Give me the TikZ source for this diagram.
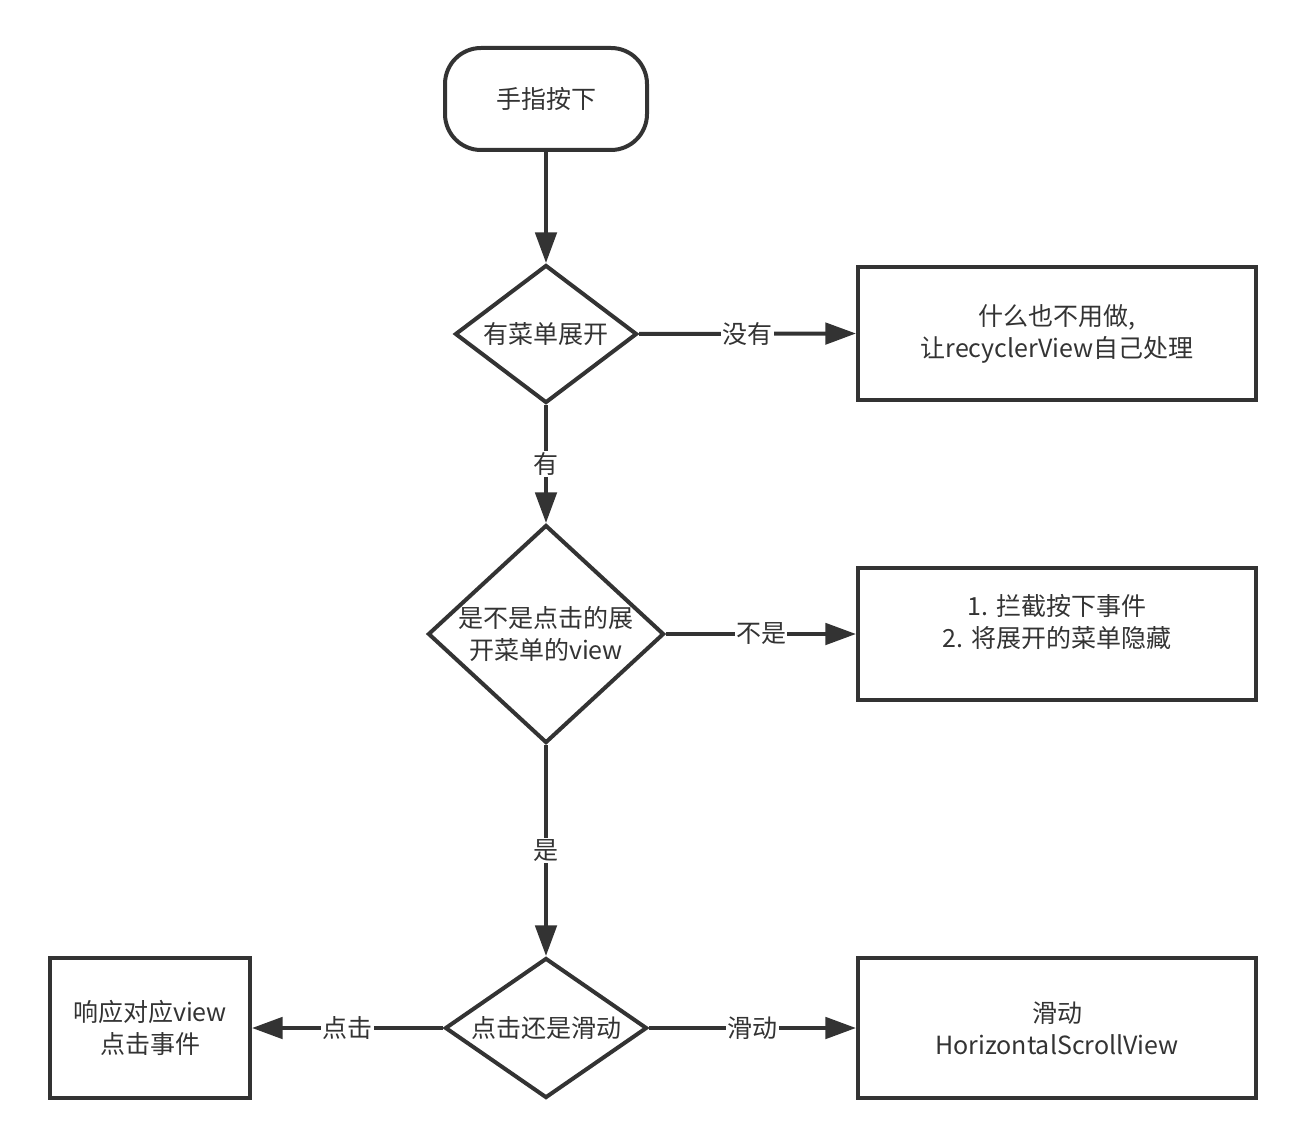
\documentclass[tikz,border=0pt]{standalone}
\usepackage{fontspec}
\setmainfont{Noto Sans CJK SC}
\usetikzlibrary{shapes.geometric,arrows.meta}
\definecolor{ink}{HTML}{333333}

\begin{document}
\begin{tikzpicture}[x=0.75pt,y=-0.75pt,
	every node/.style={text=ink,font=\fontsize{18.75}{24}\selectfont},
	startbox/.style={draw=ink,line width=3pt,rounded corners=27pt,minimum width=151.5pt,minimum height=76.5pt},
	decide/.style={draw=ink,line width=3pt,diamond,inner sep=0pt,minimum width=#1},
	actbox/.style={draw=ink,line width=3pt,minimum width=298.5pt,minimum height=99pt,align=center},
	flow/.style={draw=ink,line width=3pt,-{Triangle[length=23pt,width=16pt]}},
	tag/.style={fill=white,inner sep=1pt}]
				\useasboundingbox (0,0) rectangle (1306,1148);

				\node[startbox] (start) at (546,99) {手指按下};

				\node[decide=136.5pt,minimum height=103.5pt] (open) at (546,334) {};
				\node (opent) at (open) {有菜单展开};
				\node[actbox] (none) at (1057,333.5) {什么也不用做,\\让recyclerView自己处理};

				\node[decide=177pt,minimum height=163.5pt] (hit) at (546,634) {};
				\node[align=center] (hitt) at (546,634) {是不是点击的展\\开菜单的view};
				\node[actbox] (hide) at (1057,634) {};
				\node[align=center] (hidet) at (1057,622) {1. 拦截按下事件\\2. 将展开的菜单隐藏};

				\node[decide=151.5pt,minimum height=105pt] (kind) at (546,1028) {};
				\node (kindt) at (kind) {点击还是滑动};
				\node[actbox,minimum width=150pt,minimum height=105pt] (click) at (150,1028) {响应对应view\\点击事件};
				\node[actbox,minimum height=105pt] (scroll) at (1057,1028) {滑动\\HorizontalScrollView};

				\draw[flow] (start) -- (open.north);
				\draw[flow] (open.east) -- node[tag] {没有} (none.west);
				\draw[flow] (open.south) -- node[tag] {有} (hit.north);
				\draw[flow] (hit.east) -- node[tag] {不是} (hide.west);
				\draw[flow] (hit.south) -- node[tag] {是} (kind.north);
				\draw[flow] (kind.west) -- node[tag] {点击} (click.east);
				\draw[flow] (kind.east) -- node[tag] {滑动} (scroll.west);
			\end{tikzpicture}
\end{document}
